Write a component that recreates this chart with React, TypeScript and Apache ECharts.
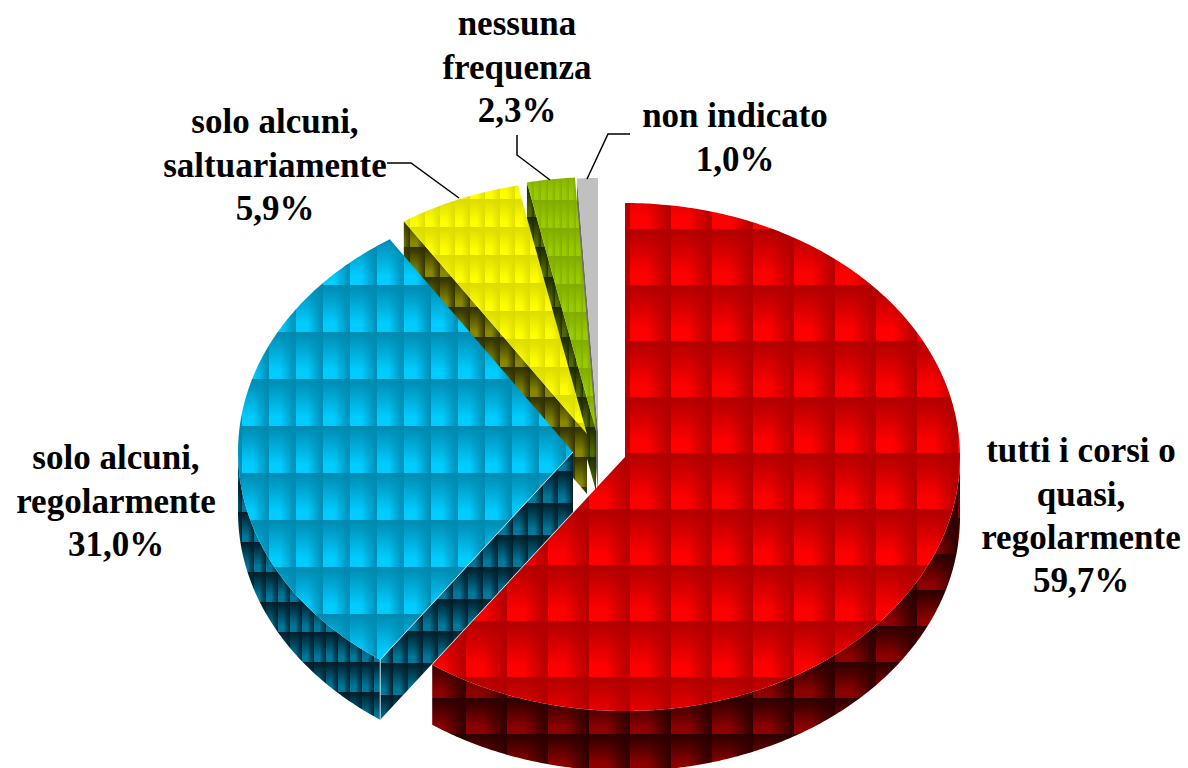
import React, { useEffect, useRef } from "react";
import * as echarts from "echarts";

const categories = [
  "tutti i corsi o\nquasi,\nregolarmente",
  "solo alcuni,\nregolarmente",
  "solo alcuni,\nsaltuariamente",
  "nessuna\nfrequenza",
  "non indicato",
];
const percentages = [59.7, 31.0, 5.9, 2.3, 1.0];

const RX = 335;
const RY = 254;
const DEPTH = 60;

type Tile = { w: number; h: number; ox: number; oy: number; dark: number[]; bright: number[] };
type SliceLook = {
  apex: number[];
  top: Tile;
  rim: Tile;
  cut: Tile;
  label: number[];
  leader?: number[][];
  edge?: string;
};

const looks: SliceLook[] = [
  {
    apex: [625, 457],
    top: { w: 41, h: 56, ox: 15, oy: 5, dark: [176, 0, 0], bright: [255, 0, 0] },
    rim: { w: 41, h: 36, ox: 15, oy: 14, dark: [44, 0, 0], bright: [140, 0, 0] },
    cut: { w: 41, h: 36, ox: 15, oy: 14, dark: [44, 0, 0], bright: [140, 0, 0] },
    label: [1081, 451],
  },
  {
    apex: [573, 452],
    top: { w: 27, h: 47, ox: 26, oy: 3, dark: [0, 138, 176], bright: [0, 204, 255] },
    rim: { w: 12, h: 30, ox: 2, oy: 2, dark: [0, 30, 42], bright: [0, 120, 155] },
    cut: { w: 15, h: 32, ox: 3, oy: 23, dark: [0, 30, 42], bright: [0, 120, 155] },
    label: [116, 458],
    edge: "#c4dde6",
  },
  {
    apex: [587, 434],
    top: { w: 15, h: 28, ox: 5, oy: 3, dark: [220, 220, 0], bright: [255, 255, 0] },
    rim: { w: 15, h: 30, ox: 5, oy: 7, dark: [48, 48, 0], bright: [135, 135, 0] },
    cut: { w: 15, h: 30, ox: 5, oy: 7, dark: [48, 48, 0], bright: [135, 135, 0] },
    label: [275, 122],
    leader: [[387, 163], [411, 163], [459, 198]],
  },
  {
    apex: [596, 431],
    top: { w: 7, h: 28, ox: 2, oy: 4, dark: [130, 172, 0], bright: [153, 204, 0] },
    rim: { w: 7, h: 30, ox: 2, oy: 7, dark: [30, 42, 0], bright: [80, 105, 0] },
    cut: { w: 7, h: 30, ox: 2, oy: 7, dark: [30, 42, 0], bright: [80, 105, 0] },
    label: [517, 24],
    leader: [[517, 135], [517, 155], [550, 180]],
  },
  {
    apex: [598, 432],
    top: { w: 8, h: 8, ox: 0, oy: 0, dark: [192, 192, 192], bright: [192, 192, 192] },
    rim: { w: 8, h: 8, ox: 0, oy: 0, dark: [110, 110, 110], bright: [110, 110, 110] },
    cut: { w: 8, h: 8, ox: 0, oy: 0, dark: [110, 110, 110], bright: [110, 110, 110] },
    label: [735, 116],
    leader: [[630, 134], [608, 134], [587, 179]],
  },
];

function makeTile(t: Tile) {
  const c = document.createElement("canvas");
  c.width = t.w;
  c.height = t.h;
  const ctx = c.getContext("2d")!;
  const img = ctx.createImageData(t.w, t.h);
  for (let j = 0; j < t.h; j++) {
    for (let i = 0; i < t.w; i++) {
      const x = ((i - t.ox + t.w) % t.w) / t.w;
      const y = ((j - t.oy + t.h) % t.h) / t.h;
      const k = Math.min(1, y * 1.25) * Math.min(1, (1 - x) * 1.7);
      const p = (j * t.w + i) * 4;
      for (let n = 0; n < 3; n++) img.data[p + n] = t.dark[n] + (t.bright[n] - t.dark[n]) * k;
      img.data[p + 3] = 255;
    }
  }
  ctx.putImageData(img, 0, 0);
  return c;
}

const rad = (d: number) => (d * Math.PI) / 180;
const rim = (apex: number[], deg: number, dy = 0) => [
  apex[0] + RX * Math.sin(rad(deg)),
  apex[1] - RY * Math.cos(rad(deg)) + dy,
];
function arc(apex: number[], a: number, b: number, dy = 0) {
  const out: number[][] = [];
  const steps = Math.max(2, Math.ceil(Math.abs(b - a) * 2));
  for (let i = 0; i <= steps; i++) out.push(rim(apex, a + ((b - a) * i) / steps, dy));
  return out;
}

export default function App() {
  const ref = useRef<HTMLDivElement>(null);
  useEffect(() => {
    const chart = echarts.init(ref.current!, undefined, { renderer: "svg" });
    const total = percentages.reduce((s, v) => s + v, 0);
    const patterns = looks.map((l) => ({
      top: { image: makeTile(l.top), repeat: "repeat" },
      rim: { image: makeTile(l.rim), repeat: "repeat" },
      cut: { image: makeTile(l.cut), repeat: "repeat" },
    }));
    const renderItem = (_p: any, api: any) => {
      const idx = api.value(1) as number;
      let before = 0;
      for (let i = 0; i < idx; i++) before += percentages[i];
      const a = (before / total) * 360;
      const b = ((before + (api.value(0) as number)) / total) * 360;
      const look = looks[idx];
      const pat = patterns[idx];
      const apex = look.apex;
      const children: any[] = [];
      const wa = Math.max(a, 90);
      const wb = Math.min(b, 270);
      if (wb > wa) {
        children.push({
          type: "polygon",
          shape: { points: [...arc(apex, wa, wb), ...arc(apex, wb, wa, DEPTH)] },
          style: { fill: pat.rim },
        });
      }
      if (a >= 180) {
        const e = rim(apex, a);
        children.push({
          type: "polygon",
          shape: { points: [apex, e, [e[0], e[1] + DEPTH], [apex[0], apex[1] + DEPTH]] },
          style: { fill: pat.cut },
        });
      }
      children.push({
        type: "polygon",
        shape: { points: [apex, ...arc(apex, a, b)] },
        style: { fill: pat.top },
      });
      if (look.edge) {
        const e = rim(apex, a);
        children.push({
          type: "polyline",
          shape: { points: [apex, e, [e[0], e[1] + DEPTH]] },
          style: { fill: "none", stroke: look.edge, lineWidth: 1 },
        });
      }
      if (look.leader) {
        children.push({
          type: "polyline",
          shape: { points: look.leader },
          style: { fill: "none", stroke: "#000", lineWidth: 1.5 },
        });
      }
      const pct = (api.value(0) as number).toFixed(1).replace(".", ",") + "%";
      children.push({
        type: "text",
        style: {
          text: categories[idx] + "\n" + pct,
          x: look.label[0],
          y: look.label[1] - 22,
          align: "center",
          verticalAlign: "top",
          fontFamily: "Liberation Serif",
          fontWeight: "bold",
          fontSize: 35,
          lineHeight: 43.4,
          fill: "#000",
        },
      });
      return { type: "group", children };
    };
    chart.setOption({
      animation: false,
      backgroundColor: "#fff",
      series: [
        {
          type: "custom",
          coordinateSystem: "none",
          renderItem,
          silent: true,
          clip: false,
          data: percentages.map((v, i) => [v, i]).reverse(),
        },
      ],
    });
    return () => chart.dispose();
  }, []);
  return (
    <div
      ref={ref}
      style={{ position: "absolute", left: 0, top: 0, width: 1188, height: 768 }}
    />
  );
}
